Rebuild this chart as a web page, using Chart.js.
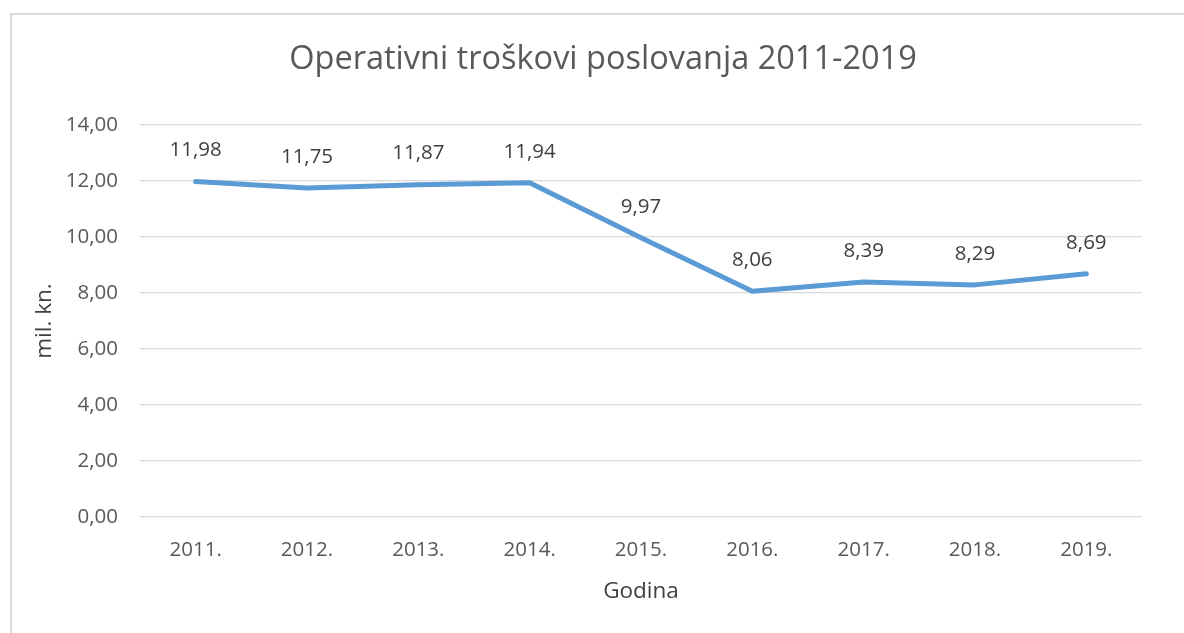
<!DOCTYPE html>
<html>
<head>
<meta charset="utf-8">
<script src="https://cdn.jsdelivr.net/npm/chart.js@4.4.1/dist/chart.umd.min.js"></script>
<style>
  html, body { margin: 0; padding: 0; background: #fff; overflow: hidden; }
  #wrap { position: relative; width: 1184px; height: 633px; }
  #frame { position: absolute; left: 10px; top: 13px; width: 1300px; height: 800px; border: 2px solid #d9d9d9; box-sizing: border-box; }
  #c { position: absolute; left: 0; top: 0; }
</style>
</head>
<body>
<div id="wrap">
  <div id="frame"></div>
  <canvas id="c" width="1184" height="633"></canvas>
</div>
<script>
const categories = ['2011.', '2012.', '2013.', '2014.', '2015.', '2016.', '2017.', '2018.', '2019.'];
const values = [11.98, 11.75, 11.87, 11.94, 9.97, 8.06, 8.39, 8.29, 8.69];
const chartTitle = 'Operativni troškovi poslovanja 2011-2019';
const yTitle = 'mil. kn.';
const xTitle = 'Godina';
const yMin = 0, yMax = 14, yStep = 2;

const FONT = "'Open Sans', 'Noto Sans', sans-serif";
const fmt = v => Number(v).toFixed(2).replace('.', ',');

const dataLabels = {
  id: 'dataLabels',
  afterDatasetsDraw(chart) {
    const ctx = chart.ctx;
    const meta = chart.getDatasetMeta(0);
    ctx.save();
    ctx.font = '20.5px ' + FONT;
    ctx.fillStyle = '#404040';
    ctx.textAlign = 'center';
    ctx.textBaseline = 'middle';
    meta.data.forEach((pt, i) => {
      ctx.fillText(fmt(chart.data.datasets[0].data[i]), pt.x, pt.y - 31);
    });
    ctx.restore();
  }
};

const titlePlugin = {
  id: 'chartTitleText',
  afterDraw(chart) {
    const ctx = chart.ctx;
    ctx.save();
    ctx.font = '32.5px ' + FONT;
    ctx.fillStyle = '#595959';
    ctx.textAlign = 'center';
    ctx.textBaseline = 'middle';
    ctx.fillText(chartTitle, 603, 60);
    ctx.restore();
  }
};

new Chart(document.getElementById('c'), {
  type: 'line',
  data: {
    labels: categories,
    datasets: [{
      data: values,
      borderColor: '#5b9bd5',
      backgroundColor: '#5b9bd5',
      borderWidth: 5,
      pointRadius: 0,
      pointHoverRadius: 0,
      tension: 0,
      borderJoinStyle: 'round',
      borderCapStyle: 'round',
      fill: false
    }]
  },
  options: {
    responsive: false,
    animation: false,
    devicePixelRatio: 1,
    layout: { padding: { left: 0, right: 42, top: 125, bottom: 0 } },
    plugins: {
      legend: { display: false },
      tooltip: { enabled: false },
      title: { display: false }
    },
    scales: {
      x: {
        offset: true,
        grid: { display: false, offset: true },
        border: { display: false },
        ticks: { color: '#595959', font: { family: FONT, size: 20.5 }, padding: 13, maxRotation: 0 },
        title: { display: true, text: xTitle, color: '#404040', font: { family: FONT, size: 22.5 }, padding: { top: 0, bottom: 27.5 } },
        afterFit(scale) { scale.height = 116; }
      },
      y: {
        min: yMin,
        max: yMax,
        grid: { color: '#d9d9d9', lineWidth: 1.2, drawTicks: false },
        border: { display: false },
        ticks: {
          stepSize: yStep,
          color: '#595959',
          font: { family: FONT, size: 20.5 },
          padding: 22,
          callback: v => fmt(v)
        },
        title: { display: true, text: yTitle, color: '#404040', font: { family: FONT, size: 22.5 }, padding: { top: 31.5, bottom: 0 } },
        afterFit(scale) { scale.width = 140; }
      }
    }
  },
  plugins: [dataLabels, titlePlugin]
});
</script>
</body>
</html>
